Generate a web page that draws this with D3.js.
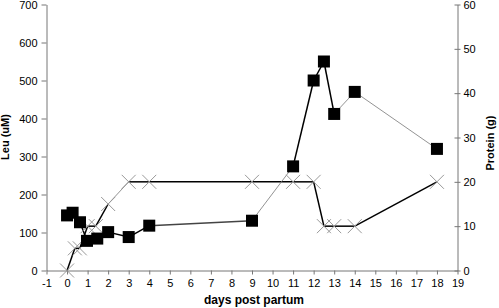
<!DOCTYPE html>
<html><head><meta charset="utf-8">
<script src="https://cdn.jsdelivr.net/npm/d3@7"></script>
<style>
html,body{margin:0;padding:0;background:#fff;}
svg{display:block;font-family:"Liberation Sans",Arial,sans-serif;}
</style></head>
<body><svg id="c" width="499" height="308"></svg>
<script>
// Leu (uM), left axis
const leuDays = [0, 0.27, 0.63, 0.97, 1.47, 2, 3, 4, 9, 11, 12, 12.5, 13, 14, 18];
const leuValues = [145, 152, 127, 78, 84, 101, 88, 118, 131, 274, 500, 550, 412, 470, 320];
const leuSegStyle = ["k","k","k","k","k","k","k","m","g","k","k","k","g","g"];
// Protein (g), right axis
const protDays = [0, 0.38, 0.62, 1.0, 1.4, 2, 3, 4, 9, 11, 12, 12.5, 13, 14, 18];
const protValues = [0, 5, 5, 10, 10, 15, 20, 20, 20, 20, 20, 10, 10, 10, 20];
const protSegStyle = ["k","k","k","k","k","g","k","k","k","k","k","k","k","k"];
const xTicks = d3.range(-1, 20);
const leftTicks = [0,100,200,300,400,500,600,700];
const rightTicks = [0,10,20,30,40,50,60];

const svg = d3.select("#c");
const L = 46.5, R = 457.5, T = 4.5, B = 270.5;
const x = d3.scaleLinear().domain([-1, 19]).range([L, R]);
const yL = d3.scaleLinear().domain([0, 700]).range([B, T]);
const yR = d3.scaleLinear().domain([0, 60]).range([B, T]);
const axisCol = "#777";

function styleAxis(g){
  g.select(".domain").attr("stroke", axisCol);
  g.selectAll(".tick line").attr("stroke", axisCol);
  g.selectAll("text").attr("fill","#000").style("font-size","11px");
}
svg.append("g").attr("transform",`translate(0,${B})`)
  .call(d3.axisBottom(x).tickValues(xTicks).tickFormat(d => String(d)).tickSize(4).tickSizeOuter(0).tickPadding(5))
  .call(styleAxis);
svg.append("g").attr("transform",`translate(${L},0)`)
  .call(d3.axisLeft(yL).tickValues(leftTicks).tickSize(5).tickSizeOuter(0).tickPadding(4))
  .call(styleAxis);
const gr = svg.append("g").attr("transform",`translate(${R},0)`)
  .call(d3.axisRight(yR).tickValues(rightTicks).tickSize(3).tickSizeOuter(0).tickPadding(3))
  .call(styleAxis);
gr.selectAll(".tick line").attr("x1",-3);

// titles
svg.append("text").attr("x", (x(-1)+x(19))/2+2).attr("y", 304).attr("text-anchor","middle")
  .style("font-size","12px").style("font-weight","bold").text("days post partum");
svg.append("text").attr("transform","translate(9,137) rotate(-90)").attr("text-anchor","middle")
  .style("font-size","11px").style("font-weight","bold").text("Leu (uM)");
svg.append("text").attr("transform","translate(494,143) rotate(-90)").attr("text-anchor","middle")
  .style("font-size","11px").style("font-weight","bold").text("Protein (g)");

const segStyles = {k:{c:"#000",w:1.5}, m:{c:"#444",w:1.5}, g:{c:"#777",w:0.8}};
function drawSegs(days, vals, styles, y){
  const segs = styles.map((s,i)=>({x1:days[i],y1:vals[i],x2:days[i+1],y2:vals[i+1],s}));
  svg.append("g").selectAll("line").data(segs).join("line")
    .attr("x1",d=>x(d.x1)).attr("y1",d=>y(d.y1)).attr("x2",d=>x(d.x2)).attr("y2",d=>y(d.y2))
    .attr("stroke",d=>segStyles[d.s].c).attr("stroke-width",d=>segStyles[d.s].w);
}
drawSegs(protDays, protValues, protSegStyle, yR);
drawSegs(leuDays, leuValues, leuSegStyle, yL);

// cross markers
const pts = protDays.map((d,i)=>({d, v:protValues[i]}));
const cs = 7;
svg.append("g").selectAll("path").data(pts).join("path")
  .attr("d", p => { const cx=x(p.d), cy=yR(p.v);
    return `M${cx-cs},${cy-cs}L${cx+cs},${cy+cs}M${cx-cs},${cy+cs}L${cx+cs},${cy-cs}`; })
  .attr("stroke","#999").attr("stroke-width",1).attr("fill","none");

// square markers
const sq = leuDays.map((d,i)=>({d, v:leuValues[i]}));
const s = 12;
svg.append("g").selectAll("rect").data(sq).join("rect")
  .attr("x",p=>x(p.d)-s/2).attr("y",p=>yL(p.v)-s/2).attr("width",s).attr("height",s)
  .attr("fill","#000");
</script></body></html>
